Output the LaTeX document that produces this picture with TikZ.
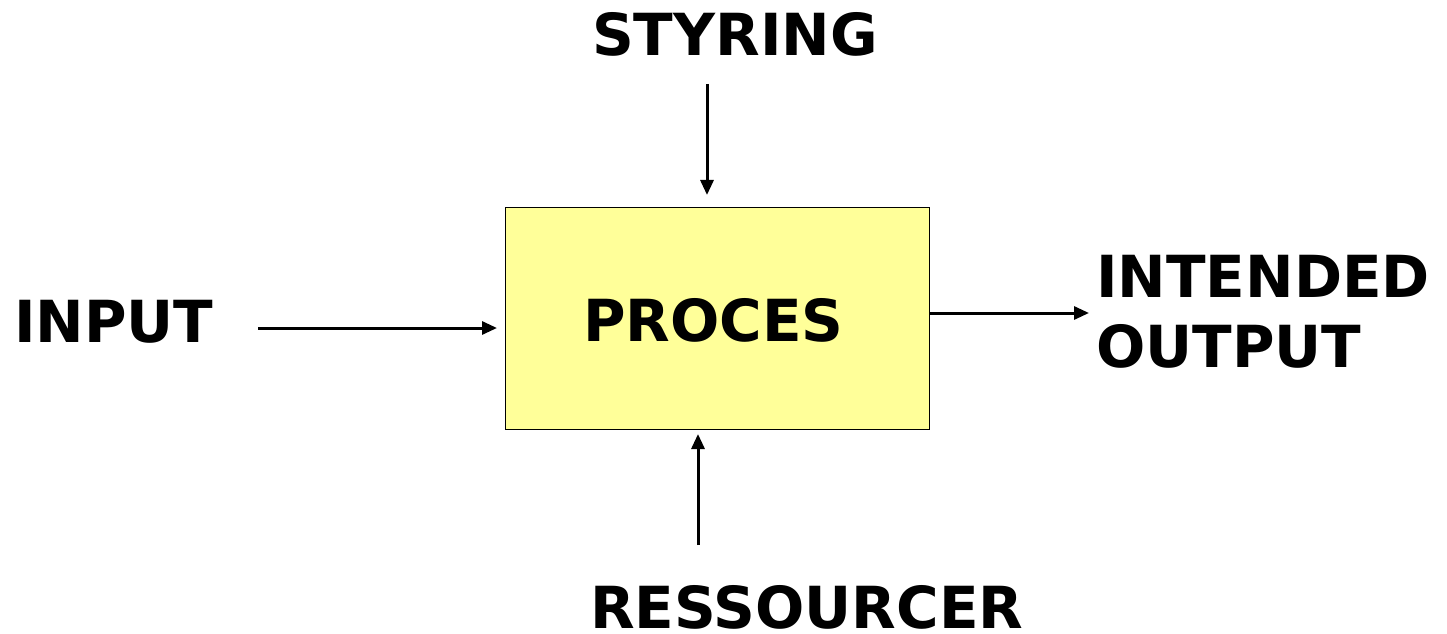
\documentclass[tikz,border=0pt]{standalone}
\usepackage{fontspec}
\setmainfont{DejaVu Sans}
\usetikzlibrary{arrows.meta}
\definecolor{procfill}{HTML}{FFFF99}
\begin{document}
\begin{tikzpicture}[x=1pt,y=1pt,
  lbl/.style={font=\fontsize{58}{70}\selectfont\bfseries, inner sep=0pt, anchor=base west},
  arr/.style={line width=3pt, -{Triangle[length=15pt,width=13pt]}},
  procbox/.style={draw=black, line width=0.8pt, fill=procfill}]
\useasboundingbox (0,0) rectangle (1447,633);
\draw[procbox] (505,204) rectangle (929,426);
\node[lbl] (proces) at (583,292) {PROCES};
\node[lbl] (styring) at (592,577) {STYRING};
\node[lbl] (input) at (14,291) {INPUT};
\node[lbl, align=left, anchor=north west] (output) at (1096,378) {INTENDED\\OUTPUT};
\node[lbl] (res) at (590,5) {RESSOURCER};
\coordinate (s1) at (707,549);
\coordinate (s2) at (707,438);
\coordinate (i1) at (258,305);
\coordinate (i2) at (497,305);
\coordinate (o1) at (929,320);
\coordinate (o2) at (1089,320);
\coordinate (r1) at (698,88);
\coordinate (r2) at (698,199);
\draw[arr] (s1) -- (s2);
\draw[arr] (i1) -- (i2);
\draw[arr] (o1) -- (o2);
\draw[arr] (r1) -- (r2);
\end{tikzpicture}
\end{document}
